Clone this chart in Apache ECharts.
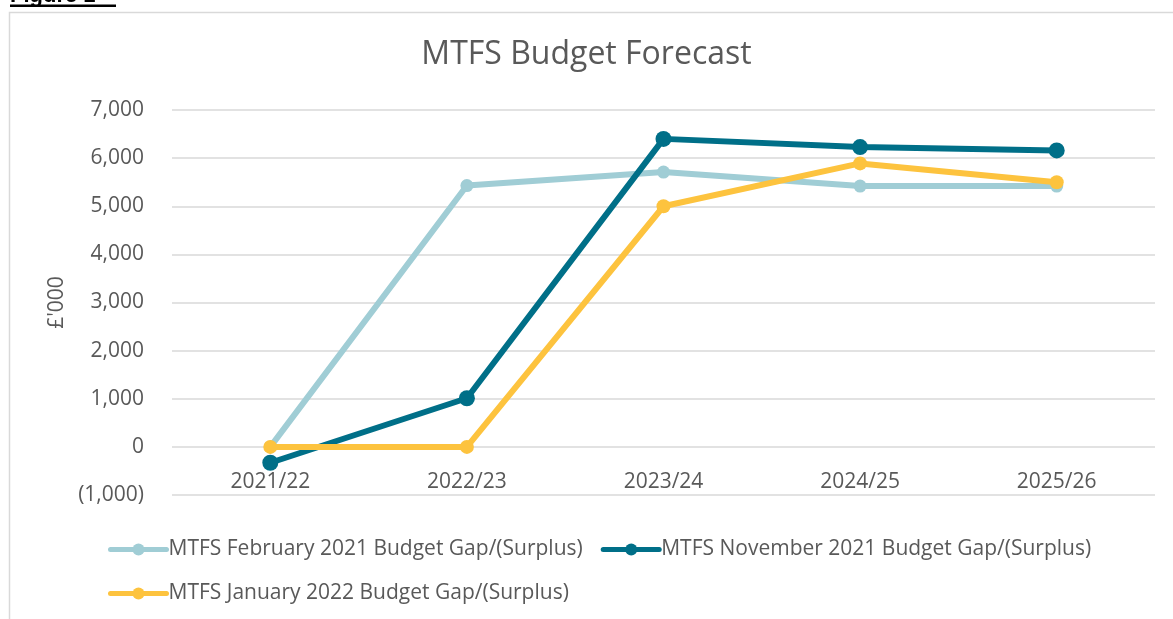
<!DOCTYPE html>
<html>
<head>
<meta charset="utf-8">
<script src="https://cdn.jsdelivr.net/npm/echarts@6/dist/echarts.min.js"></script>
<style>html,body{margin:0;padding:0;background:#fff;}#c{width:1173px;height:619px;}</style>
</head>
<body>
<div id="c"></div>
<script>
const categories = ['2021/22', '2022/23', '2023/24', '2024/25', '2025/26'];
const seriesNames = [
  'MTFS February 2021 Budget Gap/(Surplus)',
  'MTFS November 2021 Budget Gap/(Surplus)',
  'MTFS January 2022 Budget Gap/(Surplus)'
];
const feb2021 = [0, 5430, 5710, 5420, 5420];
const nov2021 = [-330, 1010, 6400, 6230, 6160];
const jan2022 = [0, 0, 5000, 5890, 5500];
const yTicks = { min: -1000, max: 7000, interval: 1000 };
const colors = ['#A0CDD5', '#006F88', '#FDC33E'];

const chart = echarts.init(document.getElementById('c'));
const font = '"Open Sans", sans-serif';
function fmt(v) {
  const s = Math.abs(v).toLocaleString('en-GB');
  return v < 0 ? '(' + s + ')' : s;
}
function mk(name, data, color, size) {
  return {
    name: name, type: 'line', data: data,
    symbol: 'circle', symbolSize: size,
    lineStyle: { width: 6, color: color, cap: 'round', join: 'round' },
    itemStyle: { color: color },
    emphasis: { disabled: true },
    animation: false
  };
}
const legendCommon = {
  itemWidth: 56, itemHeight: 15, itemGap: 18,
  lineStyle: { width: 5 },
  textStyle: { fontFamily: font, fontSize: 21, color: '#595959', padding: [0, 0, 0, -3] },
  selectedMode: false
};
chart.setOption({
  animation: false,
  title: {
    text: 'MTFS Budget Forecast', left: 'center', top: 34,
    textStyle: { fontFamily: font, fontSize: 32, fontWeight: 'normal', color: '#595959' }
  },
  legend: [
    Object.assign({ data: [seriesNames[0], seriesNames[1]], left: 103, top: 534 }, legendCommon),
    Object.assign({ data: [seriesNames[2]], left: 103, top: 578 }, legendCommon)
  ],
  grid: { left: 172, right: 18, top: 110, bottom: 124, containLabel: false },
  xAxis: {
    type: 'category', data: categories, boundaryGap: true,
    offset: -48,
    axisLine: { show: false },
    axisTick: { show: false },
    axisLabel: { fontFamily: font, fontSize: 21, color: '#595959', margin: 25 }
  },
  yAxis: {
    type: 'value', min: yTicks.min, max: yTicks.max, interval: yTicks.interval,
    name: "£'000", nameLocation: 'middle', nameGap: 100, nameRotate: 90,
    nameTextStyle: { fontFamily: font, fontSize: 21, color: '#595959' },
    axisLine: { show: false }, axisTick: { show: false },
    axisLabel: { fontFamily: font, fontSize: 21, color: '#595959', margin: 28, formatter: fmt },
    splitLine: { lineStyle: { color: '#D9D9D9', width: 1.5 } }
  },
  graphic: [
    { type: 'rect', shape: { x: 9.5, y: 12.5, width: 1200, height: 700 }, style: { fill: 'none', stroke: '#D9D9D9', lineWidth: 1.5 }, silent: true },
    { type: 'text', x: 10, y: -15, style: { text: 'Figure 1', fontFamily: '"Liberation Sans", sans-serif', fontWeight: 'bold', fontSize: 22, fill: '#000' }, silent: true },
    { type: 'rect', shape: { x: 10, y: 4.5, width: 106, height: 2.5 }, style: { fill: '#000' }, silent: true }
  ],
  series: [
    mk(seriesNames[0], feb2021, colors[0], 13),
    mk(seriesNames[1], nov2021, colors[1], 16),
    mk(seriesNames[2], jan2022, colors[2], 14)
  ]
});
</script>
</body>
</html>
